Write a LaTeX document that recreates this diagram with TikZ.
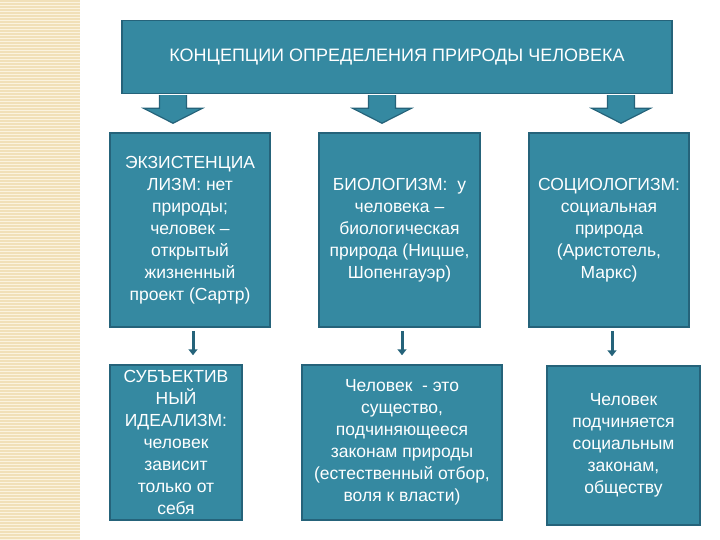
\documentclass[tikz,border=0pt]{standalone}
\usepackage{fontspec}
\setmainfont{Liberation Sans}
\usepackage{tikz}
\usetikzlibrary{arrows.meta}
\definecolor{conteal}{HTML}{3589A1}
\definecolor{condark}{HTML}{25637A}
\definecolor{conpaper}{HTML}{F1E0B8}
\definecolor{conline}{HTML}{FBF3DF}

\begin{document}
\begin{tikzpicture}[x=1pt,y=-1pt,
  box/.style={draw=condark,line width=1.5pt,fill=conteal,text=white,align=center,inner sep=0pt,font=\fontsize{17.5}{22}\selectfont},
  fatarrow/.style={draw=condark,line width=1.2pt,fill=conteal,line join=miter},
  thinarrow/.style={draw=condark,line width=3pt,shorten <=3pt,shorten >=9pt,-{Triangle[width=9pt,length=6pt]}}]
  \useasboundingbox (0,0) rectangle (720,540);
  % striped margin
  \fill[conpaper] (0,0) rectangle (80,540);
  \foreach \y in {2,5,...,539} \draw[conline,line width=0.8pt] (0,\y) -- (80,\y);
  % title
  \node[box,minimum width=550pt,minimum height=73pt,font=\fontsize{18}{21}\selectfont] (concepts) at (397,57) {КОНЦЕПЦИИ ОПРЕДЕЛЕНИЯ ПРИРОДЫ ЧЕЛОВЕКА};
  % three concepts
  \node[box,minimum width=160pt,minimum height=194pt] (exist) at (190,230) {ЭКЗИСТЕНЦИА\\ЛИЗМ: нет\\природы;\\человек –\\открытый\\жизненный\\проект (Сартр)};
  \node[box,minimum width=161pt,minimum height=194pt] (bio) at (399.5,230) {БИОЛОГИЗМ:~ у\\человека –\\биологическая\\природа (Ницше,\\Шопенгауэр)};
  \node[box,minimum width=160pt,minimum height=194pt] (socio) at (609,230) {СОЦИОЛОГИЗМ:\\социальная\\природа\\(Аристотель,\\Маркс)};
  % consequences
  \node[box,minimum width=132pt,minimum height=155pt] (subj) at (176,442.5) {СУБЪЕКТИВ\\НЫЙ\\ИДЕАЛИЗМ:\\человек\\зависит\\только от\\себя};
  \node[box,minimum width=200pt,minimum height=155pt] (nature) at (402,442.5) {Человек~ - это\\существо,\\подчиняющееся\\законам природы\\(естественный отбор,\\воля к власти)};
  \node[box,minimum width=153pt,minimum height=159pt] (society) at (623.5,445.5) {Человек\\подчиняется\\социальным\\законам,\\обществу};
  % block arrows
  \foreach \x in {173,382,621}
    \filldraw[fatarrow] (concepts.south -| \x,0) ++(-13.5,0.8) -- ++(0,13.2) -- ++(-16,0) -- ++(29.5,15) -- ++(29.5,-15) -- ++(-16,0) -- ++(0,-13.2);
  % thin arrows
  \draw[thinarrow] (exist.south -| 193,0) -- (subj.north -| 193,0);
  \draw[thinarrow] (bio.south -| 402,0) -- (nature.north -| 402,0);
  \draw[thinarrow] (socio.south -| 612,0) -- (society.north -| 612,0);
\end{tikzpicture}
\end{document}
